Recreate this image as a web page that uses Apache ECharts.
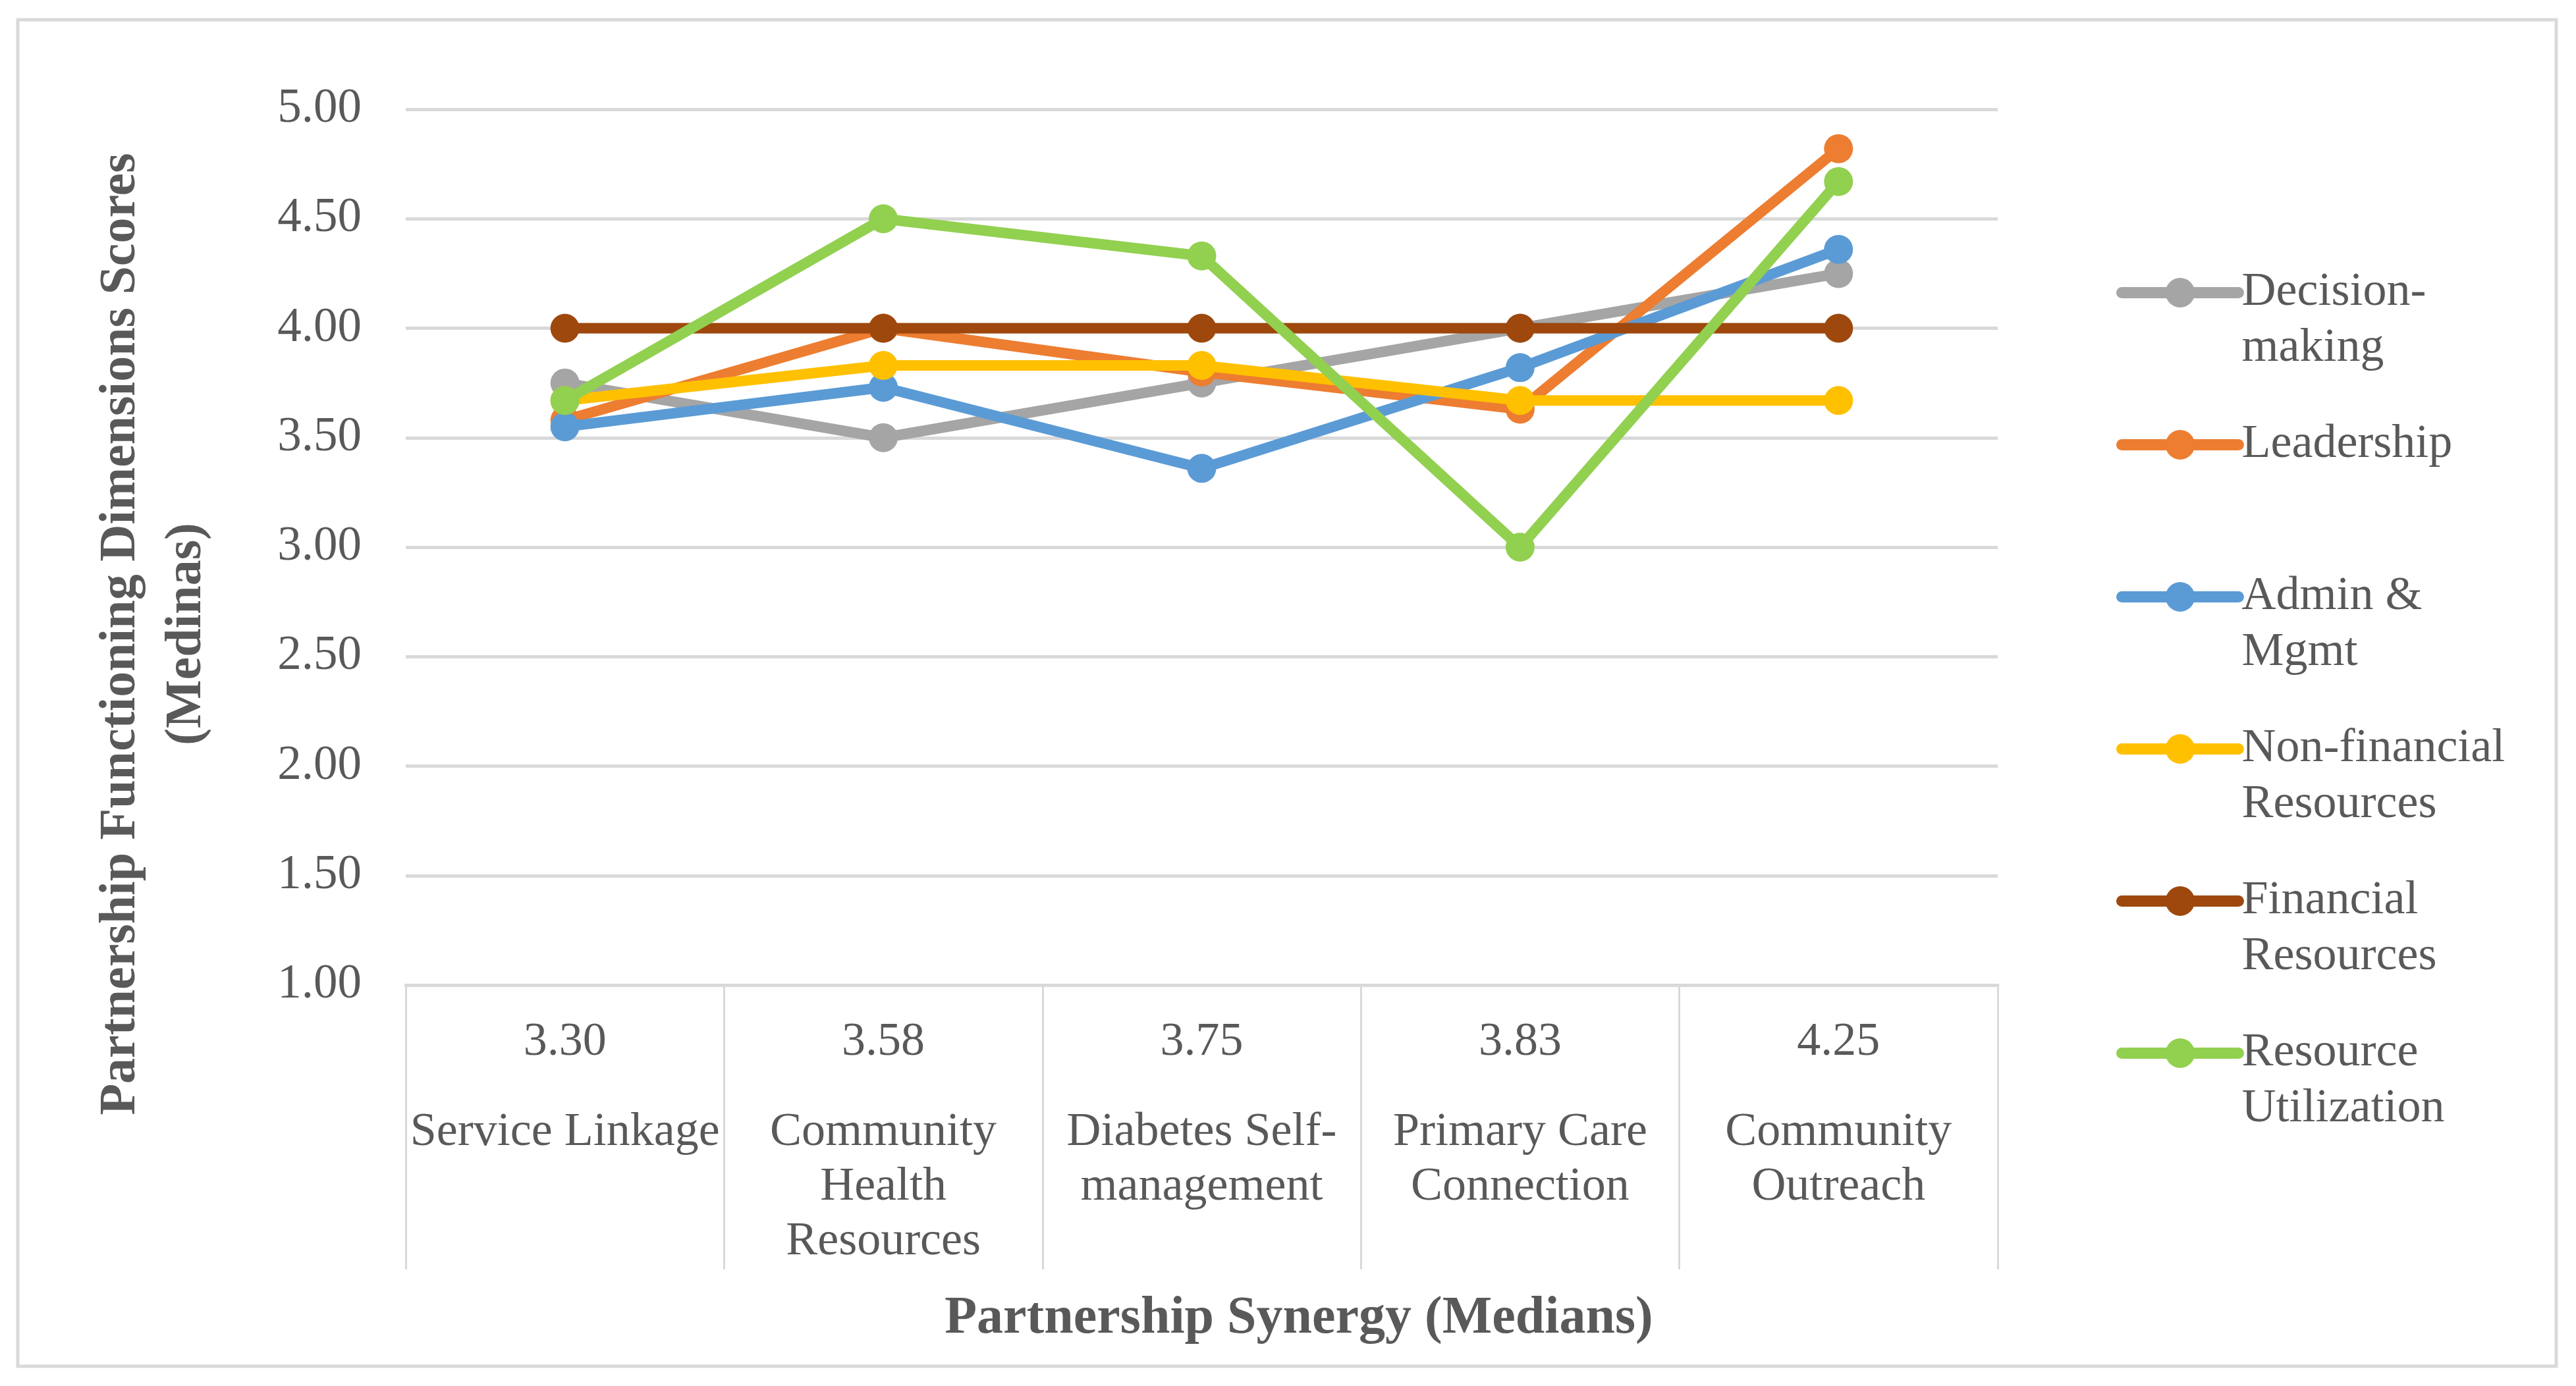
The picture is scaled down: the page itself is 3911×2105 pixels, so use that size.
<!DOCTYPE html>
<html>
<head>
<meta charset="utf-8">
<script src="https://cdn.jsdelivr.net/npm/echarts@6/dist/echarts.min.js"></script>
<style>html,body{margin:0;padding:0;background:#fff;}#c{width:3911px;height:2105px;}</style>
</head>
<body>
<div id="c"></div>
<script>
const categories = ["Service Linkage", "Community\nHealth\nResources", "Diabetes Self-\nmanagement", "Primary Care\nConnection", "Community\nOutreach"];
const synergyMedians = ["3.30", "3.58", "3.75", "3.83", "4.25"];
const yTicks = [1, 1.5, 2, 2.5, 3, 3.5, 4, 4.5, 5];

const decisionMaking = [3.75, 3.50, 3.75, 4.00, 4.25];
const leadership     = [3.58, 4.00, 3.80, 3.63, 4.82];
const adminMgmt      = [3.55, 3.73, 3.36, 3.82, 4.36];
const nonFinancial   = [3.67, 3.83, 3.83, 3.67, 3.67];
const financial      = [4.00, 4.00, 4.00, 4.00, 4.00];
const resourceUtil   = [3.67, 4.50, 4.33, 3.00, 4.67];

const seriesNames = ["Decision-\nmaking", "Leadership", "Admin &\nMgmt", "Non-financial\nResources", "Financial\nResources", "Resource\nUtilization"];
const seriesData = [decisionMaking, leadership, adminMgmt, nonFinancial, financial, resourceUtil];
const colors = ["#A5A5A5", "#ED7D31", "#5B9BD5", "#FFC000", "#9E480E", "#92D050"];

const FONT = '"Liberation Serif", "Times New Roman", serif';
const TXT = '#595959';
const LH = 85;

const chart = echarts.init(document.getElementById('c'));
chart.setOption({
  backgroundColor: '#ffffff',
  animation: false,
  color: colors,
  grid: { left: 616, right: 878, top: 166, bottom: 609, containLabel: false },
  graphic: [
    { type: 'rect', z: -10, shape: { x: 27, y: 30, width: 3854, height: 2045 },
      style: { fill: 'none', stroke: '#d9d9d9', lineWidth: 5 } },
    { type: 'text', x: 234, y: 963, rotation: Math.PI / 2,
      style: { text: 'Partnership Functioning Dimensions Scores\n(Medinas)', align: 'center', verticalAlign: 'middle',
        fontFamily: FONT, fontWeight: 'bold', fontSize: 78, lineHeight: 100, fill: TXT } },
    { type: 'text', x: 1972, y: 2003,
      style: { text: 'Partnership Synergy (Medians)', align: 'center', verticalAlign: 'middle',
        fontFamily: FONT, fontWeight: 'bold', fontSize: 80, fill: TXT } }
  ],
  legend: {
    orient: 'vertical',
    left: 3213,
    top: 317,
    padding: 0,
    itemGap: -24,
    itemWidth: 177,
    itemHeight: 56,
    lineStyle: { width: 17, cap: 'round' },
    textStyle: { fontFamily: FONT, fontSize: 72, lineHeight: LH, color: TXT },
    formatter: name => name.indexOf('\n') >= 0 ? '\n' + name : '\n' + name + '\n',
    data: seriesNames
  },
  xAxis: {
    type: 'category',
    data: categories,
    boundaryGap: true,
    axisLine: { lineStyle: { color: '#d9d9d9', width: 5 } },
    axisTick: { show: true, length: 432, lineStyle: { color: '#d9d9d9', width: 3 } },
    axisLabel: {
      interval: 0,
      margin: -8,
      color: TXT,
      fontFamily: FONT,
      formatter: (value, index) => '{v|' + synergyMedians[index] + '}\n{n|' + value + '}',
      rich: {
        v: { fontFamily: FONT, fontSize: 72, lineHeight: 191, color: TXT, align: 'center' },
        n: { fontFamily: FONT, fontSize: 72, lineHeight: 83, color: TXT, align: 'center' }
      }
    },
    splitLine: { show: false }
  },
  yAxis: {
    type: 'value',
    min: yTicks[0],
    max: yTicks[yTicks.length - 1],
    interval: 0.5,
    axisLine: { show: false },
    axisTick: { show: false },
    axisLabel: { margin: 67, color: TXT, fontFamily: FONT, fontSize: 73, formatter: v => v.toFixed(2) },
    splitLine: { lineStyle: { color: '#d9d9d9', width: 5 } }
  },
  series: seriesNames.map((n, i) => ({
    name: n,
    type: 'line',
    data: seriesData[i],
    symbol: 'circle',
    symbolSize: 44,
    lineStyle: { width: 16, color: colors[i], cap: 'round' },
    itemStyle: { color: colors[i] },
    z: 2 + i
  }))
});
</script>
</body>
</html>
